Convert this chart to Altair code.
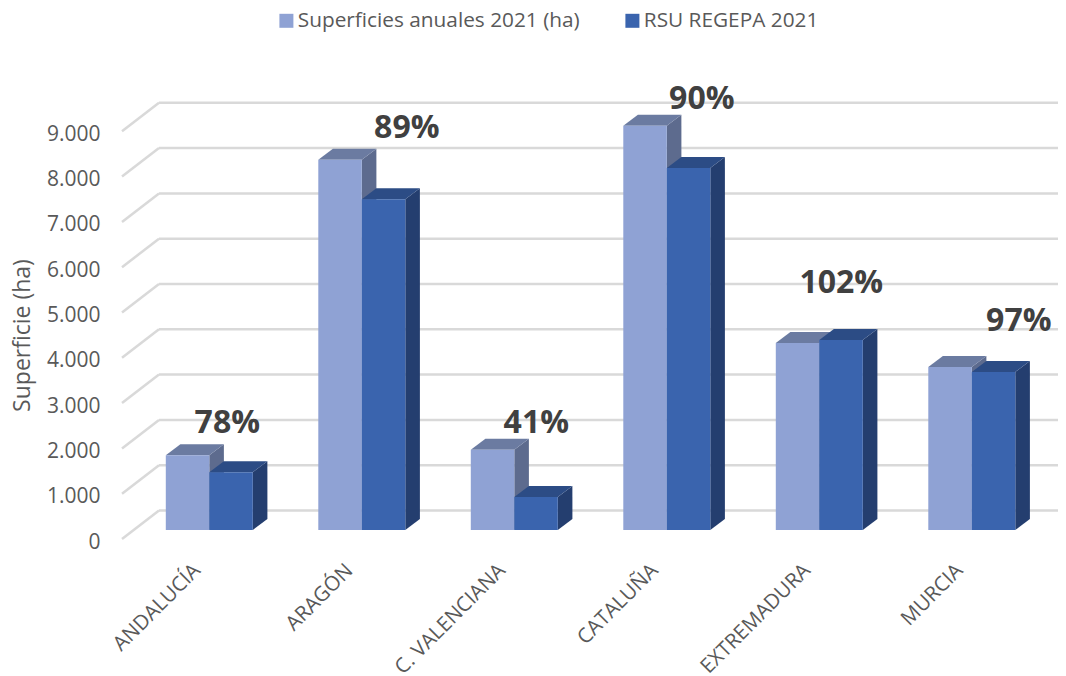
import altair as alt
import pandas as pd

CATEGORIES = ["ANDALUCÍA", "ARAGÓN", "C. VALENCIANA", "CATALUÑA", "EXTREMADURA", "MURCIA"]
SUPERFICIES = [1650, 8175, 1770, 8925, 4130, 3600]
RSU = [1275, 7300, 730, 7990, 4195, 3490]
PERCENTS = ["78%", "89%", "41%", "90%", "102%", "97%"]
GRID_VALUES = [0, 1000, 2000, 3000, 4000, 5000, 6000, 7000, 8000, 9000]
SERIES = ["Superficies anuales 2021 (ha)", "RSU REGEPA 2021"]

# pixel-to-unit conversions for the oblique projection
PX_X = 152.5          # one category step
PX_Y = 45.3 / 1000    # pixels per hectare
PLOT_W, PLOT_H = 936, 531
LEFT_PAD = 114
X0 = (209.3 - 122) / PX_X
X_DOMAIN = [-X0, -X0 + PLOT_W / PX_X]
Y_DOMAIN = [0, PLOT_H / PX_Y]

ux = lambda p: p / PX_X
uy = lambda p: p / PX_Y
BAR_W, BAR_DX, BAR_DY, BASE = ux(43.5), ux(14.6), uy(11), uy(9)
WALL_DX, WALL_DY = ux(37), uy(28.5)

front, side, top = [], [], []
for si, vals in enumerate([SUPERFICIES, RSU]):
    for i, v in enumerate(vals):
        l = i - BAR_W + si * BAR_W
        r = l + BAR_W
        b, t = BASE, BASE + v
        key = f"{si}-{i}"
        front.append(dict(s=SERIES[si], si=si, l=l, r=r, b=b, t=t))
        side += [dict(si=si, k=key, x=r, b=b, t=t),
                 dict(si=si, k=key, x=r + BAR_DX, b=b + BAR_DY, t=t + BAR_DY)]
        top += [dict(si=si, k=key, y=t, l=l, r=r),
                dict(si=si, k=key, y=t + BAR_DY, l=l + BAR_DX, r=r + BAR_DX)]
front, side, top = map(pd.DataFrame, (front, side, top))

grid = []
for v in GRID_VALUES:
    xb = X_DOMAIN[0] + WALL_DX
    grid.append(dict(x=X_DOMAIN[0], x2=xb, y=v, y2=v + WALL_DY))
    grid.append(dict(x=xb, x2=X_DOMAIN[1], y=v + WALL_DY, y2=v + WALL_DY))
grid = pd.DataFrame(grid)

LABEL_DX = [18, 45, 22, 35, 22, 47]
LABEL_DY = [32.5, 31.5, 26.5, 27, 60, 45.5]
pct = pd.DataFrame(dict(
    x=[i + ux(d) for i, d in enumerate(LABEL_DX)],
    y=[BASE + s + uy(d) for s, d in zip(SUPERFICIES, LABEL_DY)],
    t=PERCENTS,
))

sx = alt.Scale(domain=X_DOMAIN, nice=False, zero=False)
sy = alt.Scale(domain=Y_DOMAIN, nice=False, zero=False)
TXT = "#595959"
FONT = "Open Sans"
names = "[" + ",".join(f"'{c}'" for c in CATEGORIES) + "]"

xaxis = alt.Axis(values=list(range(6)), labelExpr=f"{names}[datum.value]", title=None,
                 domain=False, ticks=False, grid=False, labelAngle=315, labelAlign="right",
                 labelBaseline="middle", labelPadding=28, labelOffset=-12.5, labelFontSize=20.5, labelColor=TXT,
                 labelFont=FONT, labelOverlap=False, labelBound=False, labelFlush=False)
yaxis = alt.Axis(values=GRID_VALUES, labelExpr="replace(format(datum.value, ','), ',', '.')",
                 title="Superficie (ha)", titleFont=FONT, titleFontSize=23, titleFontWeight="normal",
                 titleColor=TXT, titleX=-88, titleY=327, domain=False, ticks=False, grid=False,
                 labelPadding=22, labelOffset=3, labelFontSize=21, labelColor=TXT, labelFont=FONT, labelOverlap=False)

gridl = alt.Chart(grid).mark_rule(color="#D9D9D9", strokeWidth=2.5).encode(
    x=alt.X("x:Q", scale=sx, axis=xaxis), x2="x2:Q",
    y=alt.Y("y:Q", scale=sy, axis=yaxis), y2="y2:Q")

SIDE = ["#5D6B8E", "#243E6F"]
TOP = ["#6B7BA1", "#2C4C85"]
color = alt.Color("s:N", scale=alt.Scale(domain=SERIES, range=["#8FA2D4", "#3A64AE"]),
                  legend=alt.Legend(title=None, orient="none", legendX=154, legendY=2,
                                    direction="horizontal", symbolType="square", symbolSize=196,
                                    symbolStrokeWidth=0, labelFont=FONT, labelFontSize=20.8, labelColor=TXT,
                                    labelLimit=500, columnPadding=42, labelOffset=1, symbolOpacity=1))

def faces(si):
    s = alt.Chart(side[side.si == si]).mark_area(color=SIDE[si], opacity=1).encode(
        x=alt.X("x:Q", scale=sx, axis=xaxis),
        y=alt.Y("t:Q", scale=sy, axis=yaxis), y2="b:Q", detail="k:N")
    t = alt.Chart(top[top.si == si]).mark_area(color=TOP[si], orient="horizontal", opacity=1).encode(
        y=alt.Y("y:Q", scale=sy, axis=yaxis),
        x=alt.X("l:Q", scale=sx, axis=xaxis), x2="r:Q", detail="k:N")
    f = alt.Chart(front[front.si == si]).mark_rect(opacity=1).encode(
        x=alt.X("l:Q", scale=sx, axis=xaxis), x2="r:Q",
        y=alt.Y("t:Q", scale=sy, axis=yaxis), y2="b:Q", color=color)
    return [s, t, f]

text = alt.Chart(pct).mark_text(font=FONT, fontSize=32, fontWeight="bold", color="#404040").encode(
    x=alt.X("x:Q", scale=sx, axis=xaxis), y=alt.Y("y:Q", scale=sy, axis=yaxis), text="t:N")

chart = alt.layer(gridl, *faces(0), *faces(1), text).properties(
    width=PLOT_W, height=PLOT_H,
    padding={"left": LEFT_PAD, "top": 0, "right": 0, "bottom": 137},
    autosize=alt.AutoSizeParams(type="none"),
).configure_view(stroke=None)

chart.save("out.html", embed_options={"renderer": "svg", "actions": False})
